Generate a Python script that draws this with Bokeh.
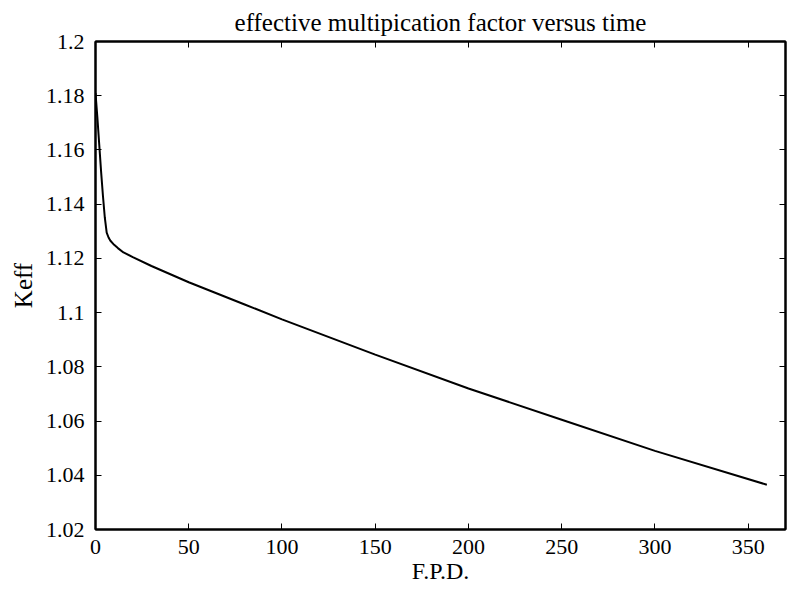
from bokeh.plotting import figure
from bokeh.models import Range1d, LinearAxis, FixedTicker, Title
from bokeh.embed import file_html
from bokeh.resources import INLINE

# data
fpd = [0, 1, 2, 3, 4, 5, 6, 7, 8, 10, 12, 15, 20, 30, 50, 80, 100, 150, 200, 250, 300, 360]
keff = [1.181, 1.172, 1.162, 1.152, 1.143, 1.135, 1.1295, 1.1277, 1.1265, 1.1250, 1.1238,
        1.1222, 1.1205, 1.1172, 1.1112, 1.1030, 1.0975, 1.0845, 1.0720, 1.0605, 1.0490, 1.0365]

x_ticks = [0, 50, 100, 150, 200, 250, 300, 350]
y_ticks = [1.02, 1.04, 1.06, 1.08, 1.1, 1.12, 1.14, 1.16, 1.18, 1.2]
y_tick_labels = ["1.02", "1.04", "1.06", "1.08", "1.1", "1.12", "1.14", "1.16", "1.18", "1.2"]

title_text = "effective multipication factor versus time"
x_label = "F.P.D."
y_label = "Keff"

FONT = "Liberation Serif"

p = figure(width=787, height=591, output_backend="svg", toolbar_location=None,
           x_range=Range1d(0, 370), y_range=Range1d(1.02, 1.2),
           min_border_left=95, min_border_right=2, min_border_top=40, min_border_bottom=62,
           title=title_text)

p.title.text_font = FONT
p.title.text_font_size = "25px"
p.title.text_font_style = "normal"
p.title.align = "center"
p.title.offset = -15
p.title.text_color = "black"
p.title.standoff = 12

p.grid.visible = False
p.outline_line_color = "black"
p.outline_line_width = 2
p.background_fill_color = "white"
p.border_fill_color = "white"

p.line(fpd, keff, line_color="black", line_width=2)

def style_axis(ax, labels=True):
    ax.axis_line_color = "black"
    ax.axis_line_width = 2
    ax.major_tick_in = 6
    ax.major_tick_out = 0
    ax.major_tick_line_color = "black"
    ax.major_tick_line_width = 1
    ax.minor_tick_line_color = None
    ax.major_label_text_font = FONT
    ax.major_label_text_color = "black"
    ax.axis_label_text_font = FONT
    ax.axis_label_text_font_style = "normal"
    ax.axis_label_text_color = "black"
    if labels:
        ax.major_label_text_font_size = "22px"
    else:
        ax.major_label_text_font_size = "0px"
        ax.major_label_standoff = 0

xa = p.xaxis[0]
ya = p.yaxis[0]
xa.ticker = FixedTicker(ticks=x_ticks)
ya.ticker = FixedTicker(ticks=y_ticks)
ya.major_label_overrides = {t: l for t, l in zip(y_ticks, y_tick_labels)}
style_axis(xa)
style_axis(ya)
xa.axis_label = x_label
xa.axis_label_text_font_size = "24px"
xa.major_label_standoff = 10
xa.axis_label_standoff = 1
ya.major_label_standoff = 11

# y-axis title placed on the left, shifted slightly down like the reference
ytitle = Title(text=y_label, align="center", offset=-27, standoff=12,
               text_font=FONT, text_font_size="25px", text_font_style="normal",
               text_color="black")
p.add_layout(ytitle, "left")

top = LinearAxis(ticker=FixedTicker(ticks=x_ticks))
right = LinearAxis(ticker=FixedTicker(ticks=y_ticks))
style_axis(top, labels=False)
style_axis(right, labels=False)
p.add_layout(top, "above")
p.add_layout(right, "right")

open("out.html", "w").write(file_html(p, INLINE))
